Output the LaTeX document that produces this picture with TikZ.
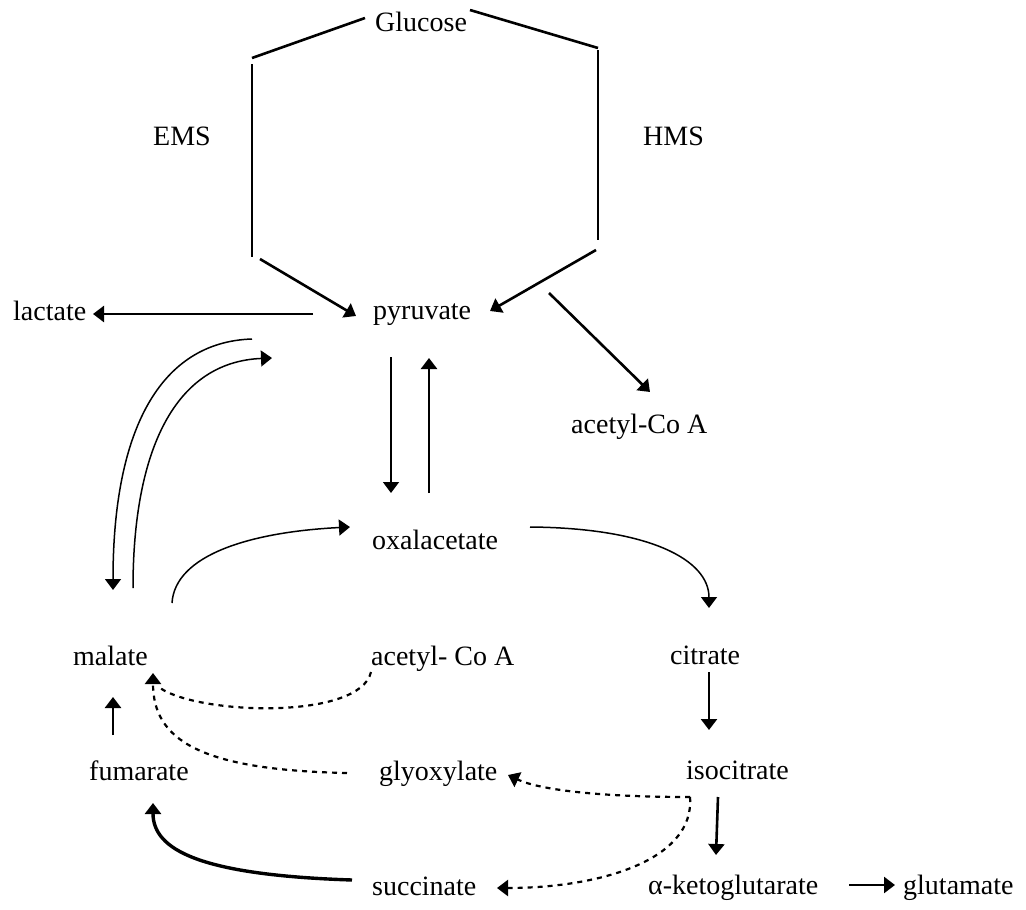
\documentclass[tikz,border=0pt]{standalone}
\usepackage{fontspec}
\setmainfont{Liberation Serif}
\usetikzlibrary{arrows.meta}
\begin{document}
\begin{tikzpicture}[x=1pt,y=-1pt,
  lbl/.style={font=\fontsize{28}{32}\selectfont,inner sep=0pt,anchor=base west},
  tip/.style={-{Triangle[length=11pt,width=16pt]}},
  solid2/.style={line width=2.6pt},
  thinl/.style={line width=1.5pt},
  dsh/.style={line width=2.2pt,dash pattern=on 5pt off 5pt},
  thick3/.style={line width=3.4pt}]
\useasboundingbox (0,0) rectangle (1026,910);
% labels
\node[lbl] (glc) at (375,31) {Glucose};
\node[lbl] (ems) at (153,145) {EMS};
\node[lbl] (hms) at (643,145) {HMS};
\node[lbl] (lac) at (13,320) {lactate};
\node[lbl] (pyr) at (373,319) {pyruvate};
\node[lbl] (acaA) at (571,433) {acetyl-Co A};
\node[lbl] (oxa) at (372,549) {oxalacetate};
\node[lbl] (mal) at (73,665) {malate};
\node[lbl] (acaB) at (371,665) {acetyl- Co A};
\node[lbl] (cit) at (670,664) {citrate};
\node[lbl] (fum) at (89,780) {fumarate};
\node[lbl] (gly) at (379,780) {glyoxylate};
\node[lbl] (iso) at (686,779) {isocitrate};
\node[lbl] (akg) at (648,894) {α-ketoglutarate};
\node[lbl] (suc) at (372,895) {succinate};
\node[lbl] (glu) at (903,894) {glutamate};
% coordinates
\coordinate (hL1) at (252,58); \coordinate (hL0) at (365,18);
\coordinate (hR0) at (470,10); \coordinate (hR1) at (598,48);
\coordinate (vL0) at (252,64); \coordinate (vL1) at (252,257);
\coordinate (vR0) at (598,50); \coordinate (vR1) at (598,240);
\coordinate (dL0) at (260,259); \coordinate (dLt) at (356,316);
\coordinate (dR0) at (596,250); \coordinate (dRt) at (490,311);
\coordinate (lac0) at (313,314); \coordinate (lact) at (93,314);
\coordinate (ac0) at (549,293); \coordinate (act) at (650,392);
\coordinate (po0) at (391,357); \coordinate (pot) at (391,493);
\coordinate (op0) at (429,493); \coordinate (opt) at (429,358);
\coordinate (om0) at (252,339); \coordinate (omt) at (113,590);
\coordinate (im0) at (133,588); \coordinate (imt) at (272,358);
\coordinate (mo0) at (172,603); \coordinate (mot) at (350,527);
\coordinate (oc0) at (530,527); \coordinate (oct) at (709,608);
\coordinate (ci0) at (709,672); \coordinate (cit1) at (709,730);
\coordinate (ik0) at (718,797); \coordinate (ikt) at (716,855);
\coordinate (kg0) at (849,885); \coordinate (kgt) at (895,885);
\coordinate (isd) at (690,797);
\coordinate (glyt) at (508,775);
\coordinate (suct) at (497,888);
\coordinate (gly0) at (347,773);
\coordinate (malt) at (153,673);
\coordinate (acb0) at (371,672); \coordinate (acbt) at (160,688);
\coordinate (sf0) at (352,880); \coordinate (sft) at (153,803);
\coordinate (fm0) at (113,735); \coordinate (fmt) at (113,697);
% hexagon
\draw[solid2] (hL1) -- (hL0);
\draw[solid2] (hR0) -- (hR1);
\draw[thinl] (vL0) -- (vL1);
\draw[thinl] (vR0) -- (vR1);
\draw[solid2,tip] (dL0) -- (dLt);
\draw[solid2,tip] (dR0) -- (dRt);
% pyruvate
\draw[solid2,tip] (lac0) -- (lact);
\draw[solid2,tip] (ac0) -- (act);
\draw[thinl,tip] (po0) -- (pot);
\draw[solid2,tip] (op0) -- (opt);
\draw[thinl,tip] (om0) .. controls (160,342) and (113,430) .. (omt);
\draw[thinl,tip] (im0) .. controls (133,450) and (175,362) .. (imt);
\draw[thinl,tip] (mo0) .. controls (175,555) and (250,532) .. (mot);
\draw[thinl,tip] (oc0) .. controls (650,528) and (709,560) .. (oct);
\draw[solid2,tip] (ci0) -- (cit1);
\draw[solid2,tip] (ik0) -- (ikt);
\draw[solid2,tip] (kg0) -- (kgt);
% dashed
\draw[dsh,tip] (isd) .. controls (600,797) and (540,790) .. (glyt);
\draw[dsh,tip] (isd) .. controls (695,860) and (600,888) .. (suct);
\draw[dsh,tip] (gly0) .. controls (200,770) and (153,740) .. (malt);
\draw[dsh] (acb0) .. controls (360,720) and (200,715) .. (acbt);
% bottom
\draw[thick3,tip] (sf0) .. controls (200,875) and (153,850) .. (sft);
\draw[solid2,tip] (fm0) -- (fmt);
\end{tikzpicture}
\end{document}
